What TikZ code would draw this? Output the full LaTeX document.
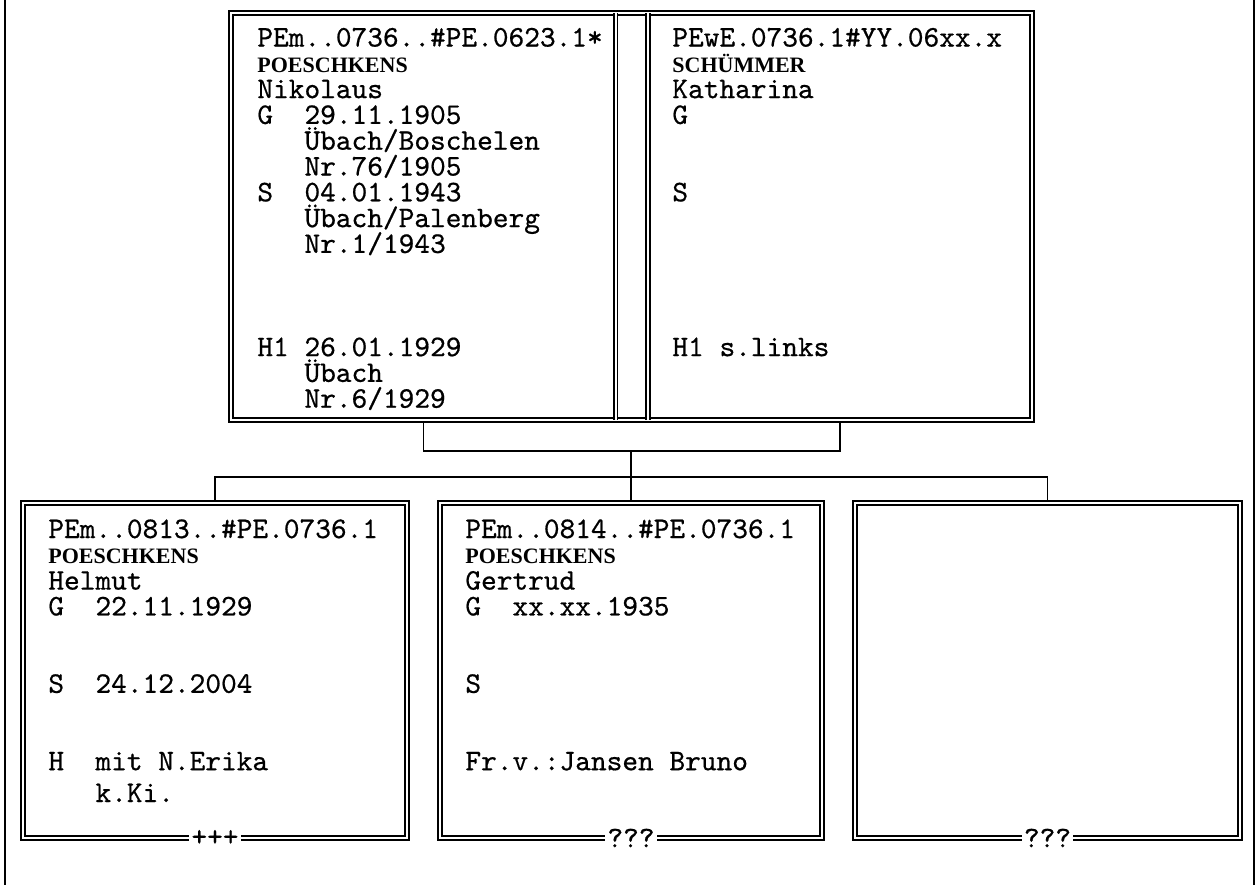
\documentclass[tikz,border=0pt]{standalone}
\usepackage{fontspec}
\newfontfamily\snfont{Liberation Serif}
\newfontfamily\dotmono{lmmono10-regular}[Extension=.otf, FakeBold=0.6]
\newcommand\tline[4]{\node[txt] (#1) at (#2,#3) {#4};}
\newcommand\sline[4]{\node[sur] (#1) at (#2,#3) {#4};}
\begin{document}
\begin{tikzpicture}[x=0.5pt,y=-0.5pt,
  dbl/.style={draw=black, line width=0.8pt, double=white, double distance=1pt},
  boxnode/.style={rectangle, inner sep=0pt, outer sep=0pt},
  dblbox/.style={boxnode, dbl},
  txt/.style={anchor=base west, inner sep=0pt, font=\fontsize{14.95pt}{12.9pt}\selectfont\dotmono},
  sur/.style={anchor=base west, inner sep=0pt, font=\fontsize{11pt}{12pt}\selectfont\snfont\bfseries},
  conn/.style={draw=black, line width=0.6pt},
  tag/.style={fill=white, inner xsep=1pt, inner ysep=0pt, font=\fontsize{14.95pt}{12.9pt}\selectfont\dotmono},
  pageline/.style={draw=black, line width=0.8pt}
]
\useasboundingbox (0,0) rectangle (1259,885);
\draw[pageline] (5,0) -- (5,885);
\draw[pageline] (1254,0) -- (1254,885);

% parents
\node[boxnode, minimum width=192.25pt, minimum height=203.5pt] (fa) at (423.25,216.5) {};
\node[boxnode, minimum width=192pt, minimum height=203.5pt] (mo) at (840,216.5) {};
\draw[dbl] (fa.north west) rectangle (mo.south east);
\draw[dbl] (fa.north east) -- (fa.south east);
\draw[dbl] (mo.north west) -- (mo.south west);

% children
\node[dblbox, minimum width=192pt, minimum height=167.5pt] (b1) at (215,670.5) {};
\node[dblbox, minimum width=191pt, minimum height=167.5pt] (b2) at (631,670.5) {};
\node[dblbox, minimum width=192.5pt, minimum height=167.5pt] (b3) at (1047.5,670.5) {};

% connectors
\coordinate (bk) at (631,451);
\coordinate (bar) at (631,477);
\draw[conn] ([yshift=-1.3pt]fa.south) |- (bk) -| ([yshift=-1.3pt]mo.south);
\draw[conn] (bk) -- (bar);
\draw[conn] ([yshift=1.3pt]b1.north) |- (bar) -| ([yshift=1.3pt]b3.north);
\draw[conn] (bar) -- ([yshift=1.3pt]b2.north);

% father text
\tline{fa0}{257}{46.5}{PEm..0736..\#PE.0623.1*}
\sline{fa1}{257}{72.3}{POESCHKENS}
\tline{fa2}{257}{98.1}{Nikolaus}
\tline{fa3}{257}{123.9}{G~~29.11.1905}
\tline{fa4}{257}{149.7}{~~~Übach/Boschelen}
\tline{fa5}{257}{175.5}{~~~Nr.76/1905}
\tline{fa6}{257}{201.3}{S~~04.01.1943}
\tline{fa7}{257}{227.1}{~~~Übach/Palenberg}
\tline{fa8}{257}{252.9}{~~~Nr.1/1943}
\tline{fa9}{257}{356.1}{H1~26.01.1929}
\tline{fa10}{257}{381.9}{~~~Übach}
\tline{fa11}{257}{407.7}{~~~Nr.6/1929}

% mother text
\tline{mo0}{672}{46.5}{PEwE.0736.1\#YY.06xx.x}
\sline{mo1}{672}{72.3}{SCHÜMMER}
\tline{mo2}{672}{98.1}{Katharina}
\tline{mo3}{672}{123.9}{G}
\tline{mo4}{672}{201.3}{S}
\tline{mo5}{672}{356.1}{H1~s.links}

% child 1
\tline{ca0}{48}{538}{PEm..0813..\#PE.0736.1}
\sline{ca1}{48}{563.8}{POESCHKENS}
\tline{ca2}{48}{589.6}{Helmut}
\tline{ca3}{48}{615.4}{G~~22.11.1929}
\tline{ca4}{48}{692.8}{S~~24.12.2004}
\tline{ca5}{48}{770.2}{H~~mit~N.Erika}
\tline{ca6}{48}{802}{~~~k.Ki.}

% child 2
\tline{cb0}{465}{538}{PEm..0814..\#PE.0736.1}
\sline{cb1}{465}{563.8}{POESCHKENS}
\tline{cb2}{465}{589.6}{Gertrud}
\tline{cb3}{465}{615.4}{G~~xx.xx.1935}
\tline{cb4}{465}{692.8}{S}
\tline{cb5}{465}{770.2}{Fr.v.:Jansen~Bruno}

% tags on bottom borders
\node[tag] (t1) at (b1.south) {+++};
\node[tag] (t2) at (b2.south) {???};
\node[tag] (t3) at (b3.south) {???};
\end{tikzpicture}
\end{document}
